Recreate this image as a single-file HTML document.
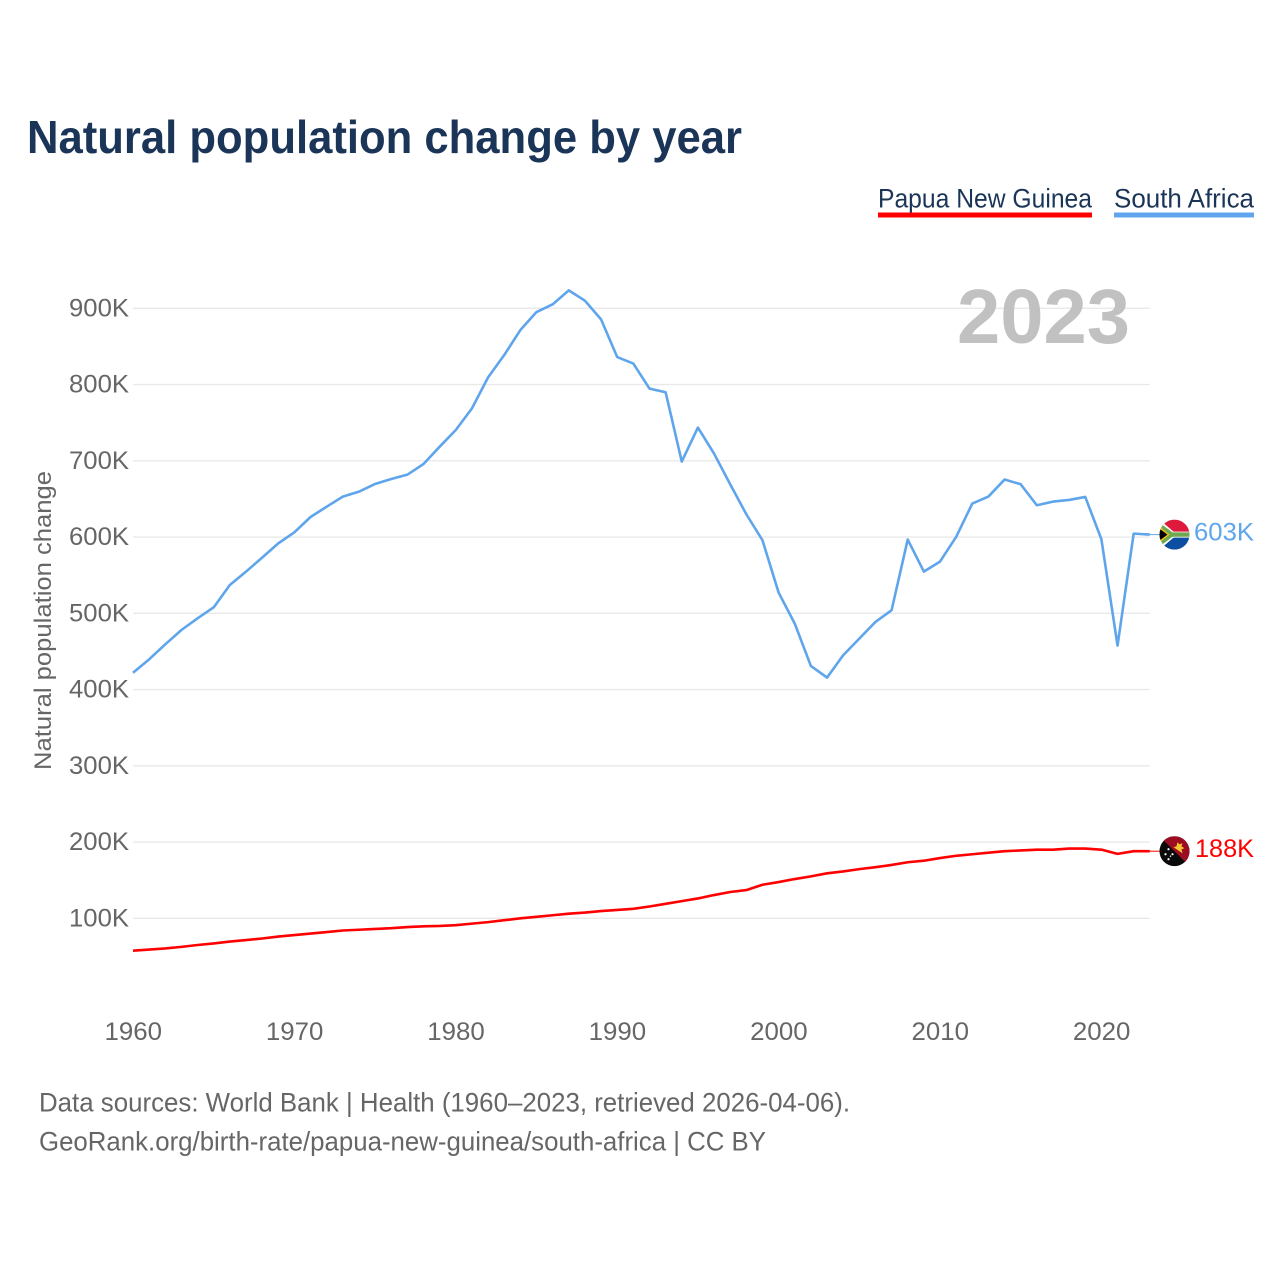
<!DOCTYPE html>
<html lang="en">
<head>
<meta charset="utf-8">
<title>Natural population change by year</title>
<style>
html,body{margin:0;padding:0;background:#fff}
svg{display:block;font-family:"Liberation Sans",sans-serif}
</style>
</head>
<body>
<svg id="chart" xmlns="http://www.w3.org/2000/svg" width="1280" height="1280" viewBox="0 0 1280 1280">
  <defs>
    <clipPath id="flag-clip-za"><circle cx="0" cy="0" r="15"/></clipPath>
    <clipPath id="flag-clip-pg"><circle cx="0" cy="0" r="15"/></clipPath>
  </defs>
  <text x="27" y="153" font-size="46" font-weight="700" fill="#1a3557" textLength="715" lengthAdjust="spacingAndGlyphs">Natural population change by year</text>

  <g>
    <g>
      <text x="878" y="207.5" font-size="26.5" fill="#1a3557" textLength="214" lengthAdjust="spacingAndGlyphs">Papua New Guinea</text>
      <rect x="878" y="212.5" width="214" height="5" fill="#ff0000"/>
    </g>
    <g>
      <text x="1114" y="207.5" font-size="26.5" fill="#1a3557" textLength="140" lengthAdjust="spacingAndGlyphs">South Africa</text>
      <rect x="1114" y="212.5" width="140" height="5" fill="#5fa5ec"/>
    </g>
  </g>

  <g id="grid"></g>
  <g id="y-ticks"></g>
  <g id="x-ticks"></g>

  <text transform="translate(51 770) rotate(-90)" font-size="24.5" fill="#666666" textLength="299" lengthAdjust="spacingAndGlyphs">Natural population change</text>

  <text x="957" y="343" font-size="77" font-weight="700" fill="#c1c1c1" textLength="173" lengthAdjust="spacingAndGlyphs">2023</text>

  <g id="series"></g>

  <g id="flag-za">
    <g clip-path="url(#flag-clip-za)">
      <rect x="-15" y="-15" width="30" height="15" fill="#de1b3d"/>
      <rect x="-15" y="0" width="30" height="15" fill="#0b4ea2"/>
      <path d="M-15,-15 L-1,-3 H15 V3 H-1 L-15,15 Z" fill="#ffffff"/>
      <path d="M-15,-12 L-2,-2.2 H15 V2.2 H-2 L-15,12 Z" fill="#6fa84f"/>
      <path d="M-15,-8 L-5,0 L-15,8 Z" fill="#f5c518"/>
      <path d="M-15,-6 L-7,0 L-15,6 Z" fill="#000000"/>
    </g>
  </g>
  <g id="flag-pg">
    <g clip-path="url(#flag-clip-pg)">
      <rect x="-15" y="-15" width="30" height="30" fill="#0a0a0a"/>
      <path d="M-15,-15 H15 V15 Z" fill="#9c0d22"/>
      <path d="M3,-9 L5,-7 L8,-8 L7,-5 L10,-3 L7,-2 L8,2 L5,0 L2,-2 L-1,-4 L2,-5 Z" fill="#f7c531"/>
      <circle cx="-6" cy="-2" r="1.1" fill="#fff"/>
      <circle cx="-9" cy="3" r="1.1" fill="#fff"/>
      <circle cx="-2" cy="3" r="1.1" fill="#fff"/>
      <circle cx="-6" cy="8" r="1.1" fill="#fff"/>
      <circle cx="-4" cy="5" r="0.7" fill="#fff"/>
    </g>
  </g>
  <g id="end-labels"></g>

  <g>
    <text x="39" y="1111.5" font-size="26.5" fill="#666666" textLength="811" lengthAdjust="spacingAndGlyphs">Data sources: World Bank | Health (1960–2023, retrieved 2026-04-06).</text>
    <text x="39" y="1150.5" font-size="26.5" fill="#666666" textLength="727" lengthAdjust="spacingAndGlyphs">GeoRank.org/birth-rate/papua-new-guinea/south-africa | CC BY</text>
  </g>
</svg>
<script>
const firstYear = 1960;
const southAfricaValues = [
  422.1, 439.6, 459.3, 478.1, 493.4, 507.8, 537.1, 554.6, 573, 591.7,
  606.2, 626.3, 639.8, 653, 659.5, 669.6, 676.1, 681.8, 695.8, 718.5,
  740.4, 768.8, 809.4, 838.7, 871.5, 895.1, 905.2, 923.5, 910, 885.5,
  836.1, 827.5, 794.7, 789.9, 699, 743.6, 709.5, 669.2, 629.9, 595.8,
  527.2, 486.5, 431, 415.7, 445, 466.8, 488.7, 504, 596.7, 554.7,
  567.8, 600.2, 643.9, 653.1, 675.4, 669.2, 641.7, 646.5, 648.7, 652.6,
  597.1, 457.7, 604.5, 603.2
];
const papuaNewGuineaValues = [
  57.5, 59, 60.5, 62.5, 65, 67, 69.5, 71.5, 73.5, 76,
  78, 80, 82, 84, 85, 86, 87, 88.5, 89.5, 90,
  91, 93, 95, 97.5, 100, 102, 104, 106, 107.5, 109.5,
  111, 112.5, 115.5, 119, 122.5, 126, 130.5, 134.5, 137, 144,
  147.5, 151.5, 155, 159, 161.5, 164.5, 167, 170, 173.5, 175.5,
  179, 182, 184, 186, 188, 189, 190, 190, 191.5, 191.5,
  190, 184.5, 188, 188
];
const xTickYears = [1960, 1970, 1980, 1990, 2000, 2010, 2020];
const yTickValues = [100, 200, 300, 400, 500, 600, 700, 800, 900];

const NS = 'http://www.w3.org/2000/svg';
const xScale = function (year) { return 133 + (year - 1960) * 16.14; };
const yScale = function (v) { return 918.3 - (v - 100) * 0.7625; };
const lastYear = firstYear + southAfricaValues.length - 1;
const grid = document.getElementById('grid');
const yTicks = document.getElementById('y-ticks');
const xTicks = document.getElementById('x-ticks');
const seriesGroup = document.getElementById('series');
const endLabels = document.getElementById('end-labels');

yTickValues.forEach(function (v) {
  const line = document.createElementNS(NS, 'line');
  
  
  line.setAttribute('x1', xScale(1960));
  line.setAttribute('x2', xScale(lastYear));
  line.setAttribute('y1', yScale(v));
  line.setAttribute('y2', yScale(v));
  line.setAttribute('stroke', '#e9e9e9');
  line.setAttribute('stroke-width', '1.3');
  grid.appendChild(line);

  const label = document.createElementNS(NS, 'text');
  
  
  label.setAttribute('x', 69);
  label.setAttribute('y', yScale(v) + 8);
  label.setAttribute('font-size', '25');
  label.setAttribute('fill', '#666666');
  label.setAttribute('textLength', '60');
  label.setAttribute('lengthAdjust', 'spacingAndGlyphs');
  label.textContent = v + 'K';
  yTicks.appendChild(label);
});

xTickYears.forEach(function (year) {
  const label = document.createElementNS(NS, 'text');
  
  
  label.setAttribute('x', xScale(year) - 28.5);
  label.setAttribute('y', 1040);
  label.setAttribute('font-size', '25');
  label.setAttribute('fill', '#666666');
  label.setAttribute('textLength', '57.5');
  label.setAttribute('lengthAdjust', 'spacingAndGlyphs');
  label.textContent = year;
  xTicks.appendChild(label);
});

function linePath(values) {
  return values.map(function (v, i) {
    return (i ? 'L' : 'M') + xScale(firstYear + i).toFixed(2) + ' ' + yScale(v).toFixed(2);
  }).join(' ');
}

const southAfricaLine = document.createElementNS(NS, 'path');


southAfricaLine.setAttribute('d', linePath(southAfricaValues));
southAfricaLine.setAttribute('fill', 'none');
southAfricaLine.setAttribute('stroke', '#5fa5ec');
southAfricaLine.setAttribute('stroke-width', '2.6');
southAfricaLine.setAttribute('stroke-linejoin', 'round');
seriesGroup.appendChild(southAfricaLine);

const papuaLine = document.createElementNS(NS, 'path');


papuaLine.setAttribute('d', linePath(papuaNewGuineaValues));
papuaLine.setAttribute('fill', 'none');
papuaLine.setAttribute('stroke', '#ff0000');
papuaLine.setAttribute('stroke-width', '2.6');
papuaLine.setAttribute('stroke-linejoin', 'round');
seriesGroup.appendChild(papuaLine);

const lastSouthAfrica = southAfricaValues[southAfricaValues.length - 1];
const lastPapua = papuaNewGuineaValues[papuaNewGuineaValues.length - 1];

const southAfricaLeader = document.createElementNS(NS, 'line');


southAfricaLeader.setAttribute('x1', xScale(lastYear));
southAfricaLeader.setAttribute('x2', xScale(lastYear) + 12);
southAfricaLeader.setAttribute('y1', yScale(lastSouthAfrica));
southAfricaLeader.setAttribute('y2', yScale(lastSouthAfrica));
southAfricaLeader.setAttribute('stroke', '#5fa5ec');
southAfricaLeader.setAttribute('stroke-width', '1');
seriesGroup.appendChild(southAfricaLeader);

const papuaLeader = document.createElementNS(NS, 'line');


papuaLeader.setAttribute('x1', xScale(lastYear));
papuaLeader.setAttribute('x2', xScale(lastYear) + 12);
papuaLeader.setAttribute('y1', yScale(lastPapua));
papuaLeader.setAttribute('y2', yScale(lastPapua));
papuaLeader.setAttribute('stroke', '#ff0000');
papuaLeader.setAttribute('stroke-width', '1');
seriesGroup.appendChild(papuaLeader);

document.getElementById('flag-za').setAttribute('transform', 'translate(1174.5 ' + yScale(lastSouthAfrica) + ')');
document.getElementById('flag-pg').setAttribute('transform', 'translate(1174.5 ' + yScale(lastPapua) + ')');

const southAfricaEnd = document.createElementNS(NS, 'text');


southAfricaEnd.setAttribute('x', 1194);
southAfricaEnd.setAttribute('y', yScale(lastSouthAfrica) + 6);
southAfricaEnd.setAttribute('font-size', '25');
southAfricaEnd.setAttribute('fill', '#5fa5ec');
southAfricaEnd.setAttribute('textLength', '60');
southAfricaEnd.setAttribute('lengthAdjust', 'spacingAndGlyphs');
southAfricaEnd.textContent = Math.round(lastSouthAfrica) + 'K';
endLabels.appendChild(southAfricaEnd);

const papuaEnd = document.createElementNS(NS, 'text');


papuaEnd.setAttribute('x', 1195);
papuaEnd.setAttribute('y', yScale(lastPapua) + 6);
papuaEnd.setAttribute('font-size', '25');
papuaEnd.setAttribute('fill', '#ff0000');
papuaEnd.setAttribute('textLength', '59');
papuaEnd.setAttribute('lengthAdjust', 'spacingAndGlyphs');
papuaEnd.textContent = Math.round(lastPapua) + 'K';
endLabels.appendChild(papuaEnd);
</script>
</body>
</html>
